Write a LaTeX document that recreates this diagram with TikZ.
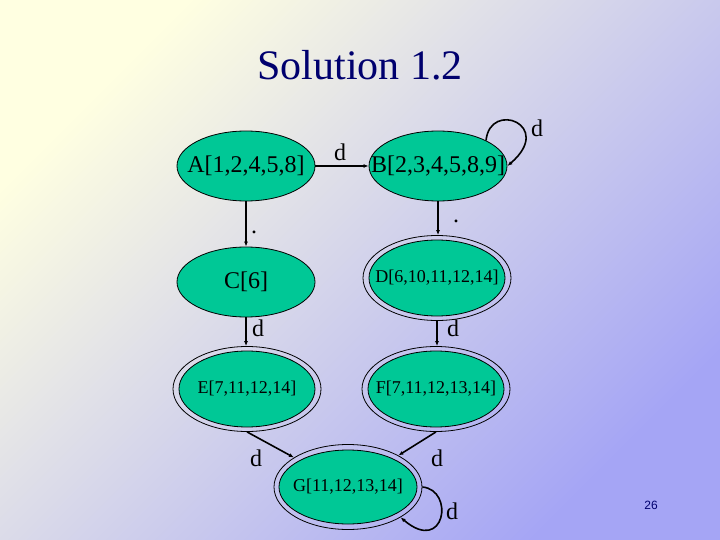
\documentclass[tikz,border=0pt]{standalone}
\usepackage{fontspec}
\setmainfont{Liberation Serif}
\newfontfamily\pgnumfont{Liberation Sans}
\usetikzlibrary{shapes.geometric,arrows.meta}
\definecolor{bgtop}{RGB}{255,255,225}
\definecolor{bgbot}{RGB}{165,165,245}
\definecolor{statefill}{RGB}{0,200,150}
\definecolor{titleblue}{RGB}{0,0,110}
\begin{document}
\begin{tikzpicture}[x=1pt,y=-1pt,
  state/.style={ellipse,draw=black,line width=0.8pt,fill=statefill,inner sep=0pt,text=black},
  bigstate/.style={state,minimum width=138pt,minimum height=70pt,font=\fontsize{24}{24}\selectfont},
  smallstate/.style={state,minimum width=136pt,minimum height=76pt,font=\fontsize{18}{18}\selectfont},
  ring/.style={ellipse,draw=black,line width=0.8pt,inner sep=0pt,minimum width=148pt,minimum height=85pt},
  edge/.style={line width=1.6pt,-{Latex[length=5pt,width=4pt]}},
  lbl/.style={font=\fontsize{24}{24}\selectfont,inner sep=0pt,text=black}]
\shade[top color=bgtop,bottom color=bgbot,shading angle=45] (0,0) rectangle (720,540);
\useasboundingbox (0,0) rectangle (720,540);
\node[font=\fontsize{42}{42}\selectfont,text=titleblue] (title) at (360,65) {Solution 1.2};
\node[font=\pgnumfont\fontsize{12}{12}\selectfont,text=titleblue] (pg) at (651,505) {26};
% states
\node[bigstate] (A) at (246,166) {\makebox[0pt]{A[1,2,4,5,8]}};
\node[bigstate] (B) at (438,166) {\makebox[0pt]{B[2,3,4,5,8,9]}};
\node[bigstate] (C) at (246,282) {\makebox[0pt]{C[6]}};
\node[ring] (D) at (437,278) {};
\node[smallstate] (Dt) at (D) {\makebox[0pt]{D[6,10,11,12,14]}};
\node[ring] (E) at (247,389) {};
\node[smallstate] (Et) at (E) {\makebox[0pt]{E[7,11,12,14]}};
\node[ring] (F) at (436,389) {};
\node[smallstate] (Ft) at (F) {\makebox[0pt]{F[7,11,12,13,14]}};
\node[ring] (G) at (348,487) {};
\node[smallstate,minimum width=138pt,minimum height=74pt] (Gt) at (G) {\makebox[0pt]{G[11,12,13,14]}};
% edges
\draw[edge] (A) -- (B);
\draw[edge] (B.28) .. controls (490,100) and (555,125) .. (B.east);
\draw[edge] (A.south) -- (A.south |- C.north);
\draw[edge] (B.south) -- (B.south |- D.north);
\draw[edge] (C.south) -- (C.south |- E.north);
\draw[edge] (D.south) -- (D.south |- F.north);
\draw[edge] (E.south) -- (G);
\draw[edge] (F.south) -- (G);
\draw[edge] (G.east) .. controls (455,490) and (445,555) .. (G.-30);
% labels
\node[lbl] (lab) at (340,152) {d};
\node[lbl] (lbb) at (537,128) {d};
\node[lbl] (lac) at (254,232) {.};
\node[lbl] (lbd) at (456,221) {.};
\node[lbl] (lce) at (258,328) {d};
\node[lbl] (ldf) at (453,328) {d};
\node[lbl] (leg) at (256,458) {d};
\node[lbl] (lfg) at (437,458) {d};
\node[lbl] (lgg) at (452,511) {d};
\end{tikzpicture}
\end{document}
